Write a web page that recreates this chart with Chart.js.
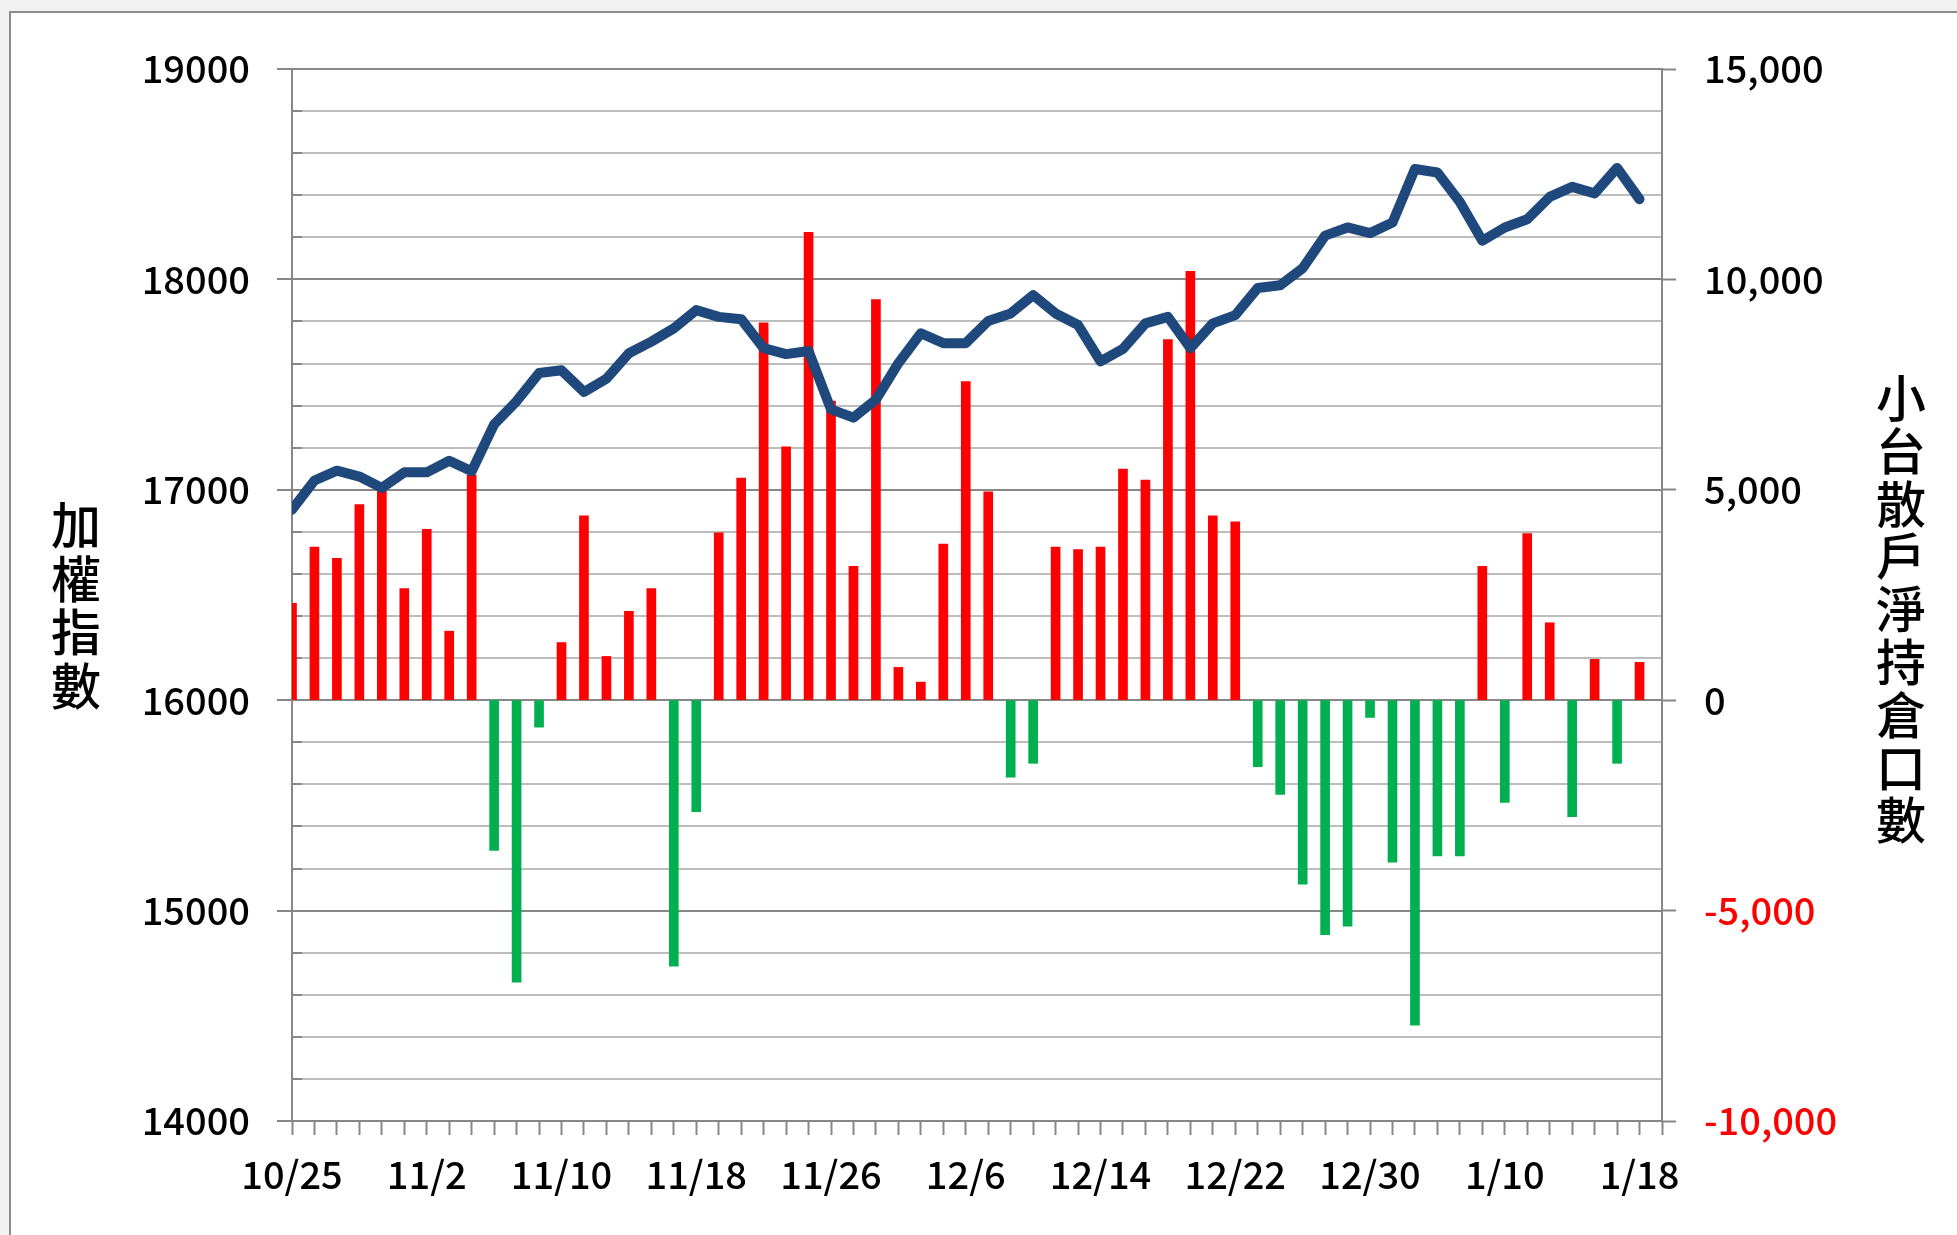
<!DOCTYPE html>
<html>
<head>
<meta charset="utf-8">
<script src="https://cdn.jsdelivr.net/npm/chart.js@4.4.0/dist/chart.umd.min.js"></script>
<style>
    html, body { margin: 0; padding: 0; background: #ffffff; }
    canvas { display: block; }
</style>
</head>
<body>
<canvas id="chart" width="1957" height="1235"></canvas>
<script>
// 交易日 (最後一格 1/19 沒有資料)
const dates = [
    '10/25', '10/26', '10/27', '10/28', '10/29', '11/1', '11/2', '11/3', '11/4', '11/5',
    '11/8', '11/9', '11/10', '11/11', '11/12', '11/15', '11/16', '11/17', '11/18', '11/19',
    '11/22', '11/23', '11/24', '11/25', '11/26', '11/29', '11/30', '12/1', '12/2', '12/3',
    '12/6', '12/7', '12/8', '12/9', '12/10', '12/13', '12/14', '12/15', '12/16', '12/17',
    '12/20', '12/21', '12/22', '12/23', '12/24', '12/27', '12/28', '12/29', '12/30', '1/3',
    '1/4', '1/5', '1/6', '1/7', '1/10', '1/11', '1/12', '1/13', '1/14', '1/17',
    '1/18', '1/19'
];

// 加權指數
const indexValues = [
    16905, 17044, 17091, 17063, 17009, 17083, 17083, 17138, 17088, 17311,
    17421, 17555, 17568, 17465, 17528, 17649, 17704, 17767, 17854, 17822,
    17811, 17673, 17645, 17660, 17382, 17343, 17429, 17602, 17744, 17697,
    17697, 17802, 17838, 17925, 17838, 17783, 17610, 17670, 17791, 17822,
    17673, 17791, 17830, 17959, 17972, 18053, 18208, 18247, 18220, 18270,
    18525, 18508, 18368, 18184, 18247, 18286, 18392, 18440, 18409, 18530,
    18381
];

// 小台散戶淨持倉口數
const netPositions = [
    2300, 3640, 3370, 4650, 4980, 2650, 4060, 1640, 5350, -3570,
    -6700, -640, 1370, 4380, 1040, 2110, 2650, -6320, -2650, 3980,
    5280, 8970, 6020, 11120, 7110, 3180, 9520, 780, 430, 3710,
    7570, 4950, -1830, -1500, 3640, 3580, 3640, 5490, 5230, 8570,
    10190, 4380, 4240, -1580, -2240, -4370, -5570, -5370, -410, -3850,
    -7720, -3700, -3700, 3180, -2430, 3960, 1840, -2770, 970, -1500,
    900
];

const leftTickLabels = [14000, 15000, 16000, 17000, 18000, 19000];
const rightTickLabels = [-10000, -5000, 0, 5000, 10000, 15000];
const xLabelEvery = 6;

const leftTitle = '加權指數';
const rightTitle = '小台散戶淨持倉口數';

let chartUtils = function () {
    const FONT = '"Noto Sans CJK TC", "Noto Sans", sans-serif';
    const AXIS_GRAY = '#878787';
    const MINOR_GRAY = '#bdbdbd';

    // 直排文字 (一字一行)
    let drawStacked = (ctx, text, x, y0, step) => {
        ctx.save();
        ctx.fillStyle = '#000000';
        ctx.font = '500 50px ' + FONT;
        ctx.textAlign = 'center';
        ctx.textBaseline = 'middle';
        Array.from(text).forEach((ch, i) => ctx.fillText(ch, x, y0 + i * step));
        ctx.restore();
    };

    let decorPlugin = {
        id: 'decor',
        beforeDraw(chart) {
            const ctx = chart.ctx;
            ctx.save();
            ctx.fillStyle = '#f2f2f2';
            ctx.fillRect(0, 0, chart.width, chart.height);
            ctx.fillStyle = '#ffffff';
            ctx.fillRect(10, 12, chart.width, chart.height);
            ctx.strokeStyle = '#8c8c8c';
            ctx.lineWidth = 2;
            ctx.strokeRect(10, 12, chart.width + 20, chart.height + 20);
            ctx.restore();
        },
        beforeDatasetsDraw(chart) {
            // 左軸內側刻度
            const ctx = chart.ctx;
            const yScale = chart.scales.y;
            const left = chart.chartArea.left;
            ctx.save();
            ctx.strokeStyle = AXIS_GRAY;
            ctx.lineWidth = 2;
            ctx.beginPath();
            yScale.ticks.forEach(t => {
                const y = Math.round(yScale.getPixelForValue(t.value));
                ctx.moveTo(left, y);
                ctx.lineTo(left + 10, y);
            });
            ctx.stroke();
            ctx.restore();
        },
        afterDraw(chart) {
            drawStacked(chart.ctx, leftTitle, 76, 525, 53.5);
            drawStacked(chart.ctx, rightTitle, 1901, 398, 52.8);
        }
    };

    let chartDrawing = (id) => {
        const chart = document.getElementById(id);
        const tickFont = { family: FONT, size: 38, weight: '500' };

        const data = {
            labels: dates,
            datasets: [{
                type: 'line',
                data: indexValues,
                yAxisID: 'y',
                borderColor: '#1f497d',
                borderWidth: 10,
                borderCapStyle: 'round',
                borderJoinStyle: 'round',
                pointRadius: 0,
                tension: 0,
                clip: 0
            }, {
                type: 'bar',
                data: netPositions,
                yAxisID: 'y1',
                backgroundColor: ctx => ctx.raw >= 0 ? '#ff0000' : '#00b050',
                barThickness: 9
            }]
        };

        const options = {
            responsive: false,
            animation: false,
            layout: { padding: { top: 69, left: 0, right: 0, bottom: 0 } },
            plugins: {
                legend: { display: false },
                tooltip: { enabled: false }
            },
            scales: {
                x: {
                    offset: false,
                    afterFit: scale => { scale.height = 114; },
                    border: { display: true, color: AXIS_GRAY, width: 2 },
                    grid: {
                        offset: false,
                        drawOnChartArea: false,
                        drawTicks: true,
                        tickLength: 14,
                        tickWidth: 2,
                        tickColor: AXIS_GRAY
                    },
                    ticks: {
                        autoSkip: false,
                        maxRotation: 0,
                        minRotation: 0,
                        padding: 17,
                        color: '#000000',
                        font: tickFont,
                        callback: function (value, index) {
                            return index % xLabelEvery === 0 ? this.getLabelForValue(value) : '';
                        }
                    }
                },
                y: {
                    position: 'left',
                    min: 14000,
                    max: 19000,
                    afterFit: scale => { scale.width = 292; },
                    border: { display: true, color: AXIS_GRAY, width: 2 },
                    grid: {
                        lineWidth: 2,
                        color: ctx => leftTickLabels.includes(ctx.tick.value) ? AXIS_GRAY : MINOR_GRAY,
                        tickLength: 15,
                        tickWidth: 2,
                        tickColor: ctx => leftTickLabels.includes(ctx.tick.value) ? AXIS_GRAY : 'rgba(0,0,0,0)'
                    },
                    ticks: {
                        autoSkip: false,
                        stepSize: 200,
                        padding: 27,
                        color: '#000000',
                        font: tickFont,
                        callback: value => leftTickLabels.includes(value) ? String(value) : ''
                    }
                },
                y1: {
                    position: 'right',
                    min: -10000,
                    max: 15000,
                    afterFit: scale => { scale.width = 295; },
                    border: { display: true, color: AXIS_GRAY, width: 2 },
                    grid: {
                        drawOnChartArea: false,
                        tickLength: 14,
                        tickWidth: 2,
                        tickColor: ctx => rightTickLabels.includes(ctx.tick.value) ? AXIS_GRAY : 'rgba(0,0,0,0)'
                    },
                    ticks: {
                        autoSkip: false,
                        stepSize: 1000,
                        padding: 28,
                        font: tickFont,
                        color: ctx => ctx.tick.value < 0 ? '#ff0000' : '#000000',
                        callback: value => rightTickLabels.includes(value) ? value.toLocaleString('en-US') : ''
                    }
                }
            }
        };

        new Chart(chart, {
            type: 'bar',
            data: data,
            options: options,
            plugins: [decorPlugin]
        });
    };

    return {
        chartDrawing
    };
}();

chartUtils.chartDrawing('chart');
</script>
</body>
</html>
